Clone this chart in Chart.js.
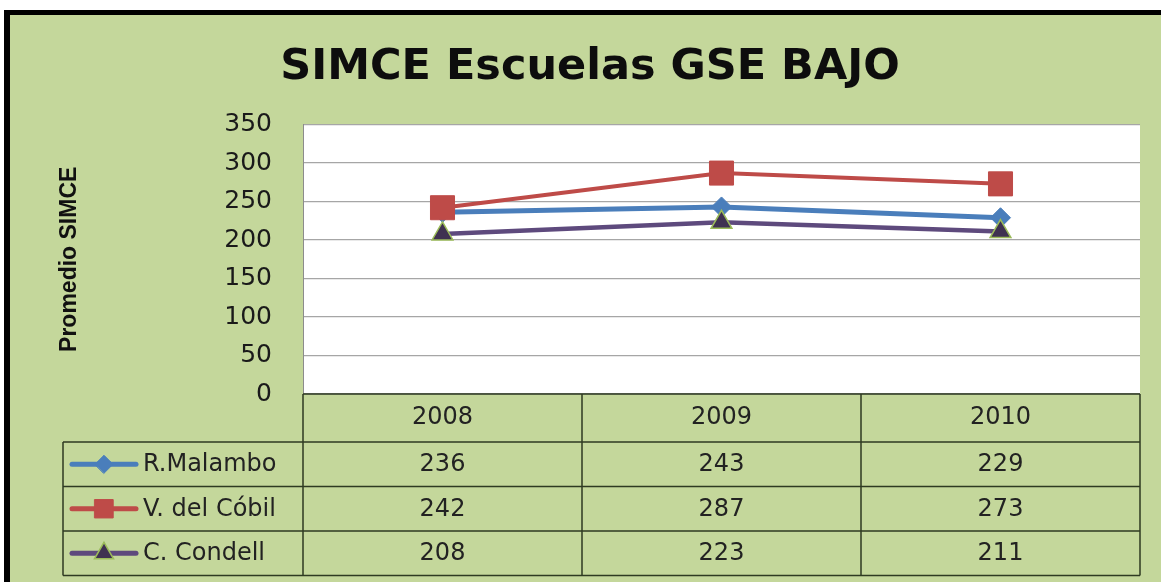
<!DOCTYPE html>
<html>
<head>
<meta charset="utf-8">
<script src="https://cdn.jsdelivr.net/npm/chart.js@4"></script>
<style>
  body { margin: 0; background: #fff; overflow: hidden; }
  #frame { position: absolute; left: 4px; top: 10px; width: 1170px; height: 590px;
           border-left: 6px solid #000; border-top: 5px solid #000; background: #c4d79b; }
  #myChart { position: absolute; left: 0; top: 0; }
</style>
</head>
<body>
<div id="frame"></div>
<canvas id="myChart" width="1161" height="582"></canvas>
<script>
const years = ['2008', '2009', '2010'];
const seriesNames = ['R.Malambo', 'V. del Cóbil', 'C. Condell'];
const malambo = [236, 243, 229];
const cobil = [242, 287, 273];
const condell = [208, 223, 211];
const yTicks = [0, 50, 100, 150, 200, 250, 300, 350];

const tableFont = '24px "DejaVu Sans"';
const legendRadius = [9, 13, 11];

// fondo blanco del area de grafico
const plotBg = {
  id: 'plotBg',
  beforeDraw(chart) {
    const {ctx, chartArea: a} = chart;
    ctx.save();
    ctx.fillStyle = '#fff';
    ctx.fillRect(a.left, a.top, a.right - a.left, a.bottom - a.top);
    ctx.restore();
  }
};

// tabla de datos bajo el grafico (con leyenda)
const dataTable = {
  id: 'dataTable',
  afterDraw(chart) {
    const {ctx, chartArea: a} = chart;
    const x = chart.scales.x;
    const step = x.getPixelForValue(1) - x.getPixelForValue(0);
    const headTop = a.bottom, headBottom = a.bottom + 48;
    const rowH = 44.5;
    const tableLeft = 63;
    const rows = chart.data.datasets.length;
    const tableBottom = headBottom + rows * rowH;

    ctx.save();
    ctx.strokeStyle = '#2e3a22';
    ctx.lineWidth = 1.5;
    // lineas horizontales
    ctx.beginPath();
    ctx.moveTo(a.left, headTop); ctx.lineTo(a.right, headTop);
    for (let r = 0; r <= rows; r++) {
      const yy = headBottom + r * rowH;
      ctx.moveTo(tableLeft, yy); ctx.lineTo(a.right, yy);
    }
    // lineas verticales
    ctx.moveTo(tableLeft, headBottom); ctx.lineTo(tableLeft, tableBottom);
    for (let c = 0; c <= years.length; c++) {
      const xx = x.getPixelForValue(c) - step / 2;
      ctx.moveTo(xx, headTop); ctx.lineTo(xx, tableBottom);
    }
    ctx.stroke();

    ctx.font = tableFont;
    ctx.fillStyle = '#222';
    ctx.textAlign = 'center';
    ctx.textBaseline = 'middle';
    years.forEach((yr, i) => {
      ctx.fillText(yr, x.getPixelForValue(i), headTop + 24);
    });
    chart.data.datasets.forEach((ds, r) => {
      const cy = headBottom + r * rowH + rowH / 2;
      ds.data.forEach((v, i) => {
        ctx.textAlign = 'center';
        ctx.fillText(String(v), x.getPixelForValue(i), cy + 1);
      });
      // muestra de leyenda
      ctx.strokeStyle = ds.borderColor;
      ctx.lineWidth = 5;
      ctx.lineCap = 'round';
      ctx.beginPath();
      ctx.moveTo(72, cy); ctx.lineTo(136, cy);
      ctx.stroke();
      ctx.fillStyle = ds.pointBackgroundColor;
      ctx.strokeStyle = ds.pointBorderColor;
      ctx.lineWidth = ds.pointBorderWidth;
      Chart.helpers.drawPoint(ctx, {pointStyle: ds.pointStyle, radius: legendRadius[r], borderWidth: ds.pointBorderWidth}, 104, cy);
      ctx.fillStyle = '#222';
      ctx.textAlign = 'left';
      ctx.fillText(seriesNames[r], 143, cy + 1);
    });
    ctx.restore();
  }
};

function lineChart() {
  const ctx = document.getElementById('myChart');
  new Chart(ctx, {
    type: 'line',
    data: {
      labels: years,
      datasets: [{
        label: seriesNames[0],
        data: malambo,
        borderColor: '#4a7ebb',
        borderWidth: 5,
        pointStyle: 'rectRot',
        pointRadius: 10,
        pointBackgroundColor: '#4a7ebb',
        pointBorderColor: '#4a7ebb',
        pointBorderWidth: 1,
        order: 3
      }, {
        label: seriesNames[1],
        data: cobil,
        borderColor: '#be4b48',
        borderWidth: 4,
        pointStyle: 'rect',
        pointRadius: 17,
        pointBackgroundColor: '#be4b48',
        pointBorderColor: '#be4b48',
        pointBorderWidth: 1,
        order: 2
      }, {
        label: seriesNames[2],
        data: condell,
        borderColor: '#5e4a7d',
        borderWidth: 4.5,
        pointStyle: 'triangle',
        pointRadius: 12,
        pointBackgroundColor: '#3f3151',
        pointBorderColor: '#9bbb59',
        pointBorderWidth: 1.5,
        order: 1
      }]
    },
    options: {
      responsive: false,
      devicePixelRatio: 1,
      animation: false,
      layout: { padding: { left: 40, right: 21, top: 0, bottom: 188 } },
      scales: {
        x: {
          display: false,
          offset: true
        },
        y: {
          min: 0,
          max: 350,
          afterFit(scale) { scale.width = 263; },
          afterBuildTicks(scale) { scale.ticks = yTicks.map(v => ({value: v})); },
          border: { display: true, color: '#8c8c8c', width: 1 },
          grid: { color: '#a6a6a6', lineWidth: 1.2, drawTicks: false },
          ticks: { padding: 31, color: '#1a1a1a', font: { family: 'DejaVu Sans', size: 25 } },
          title: {
            display: true,
            text: 'Promedio SIMCE',
            color: '#111',
            padding: { top: 16, bottom: 0 },
            font: { family: '"Liberation Sans"', size: 23, weight: 'bold' }
          }
        }
      },
      plugins: {
        legend: { display: false },
        tooltip: { enabled: false },
        title: {
          display: true,
          text: 'SIMCE Escuelas GSE BAJO',
          color: '#0d0d0d',
          padding: { top: 42, bottom: 31 },
          font: { family: 'DejaVu Sans', size: 43, weight: 'bold' }
        }
      }
    },
    plugins: [plotBg, dataTable]
  });
}

window.addEventListener('DOMContentLoaded', function () {
  lineChart();
});
</script>
</body>
</html>
